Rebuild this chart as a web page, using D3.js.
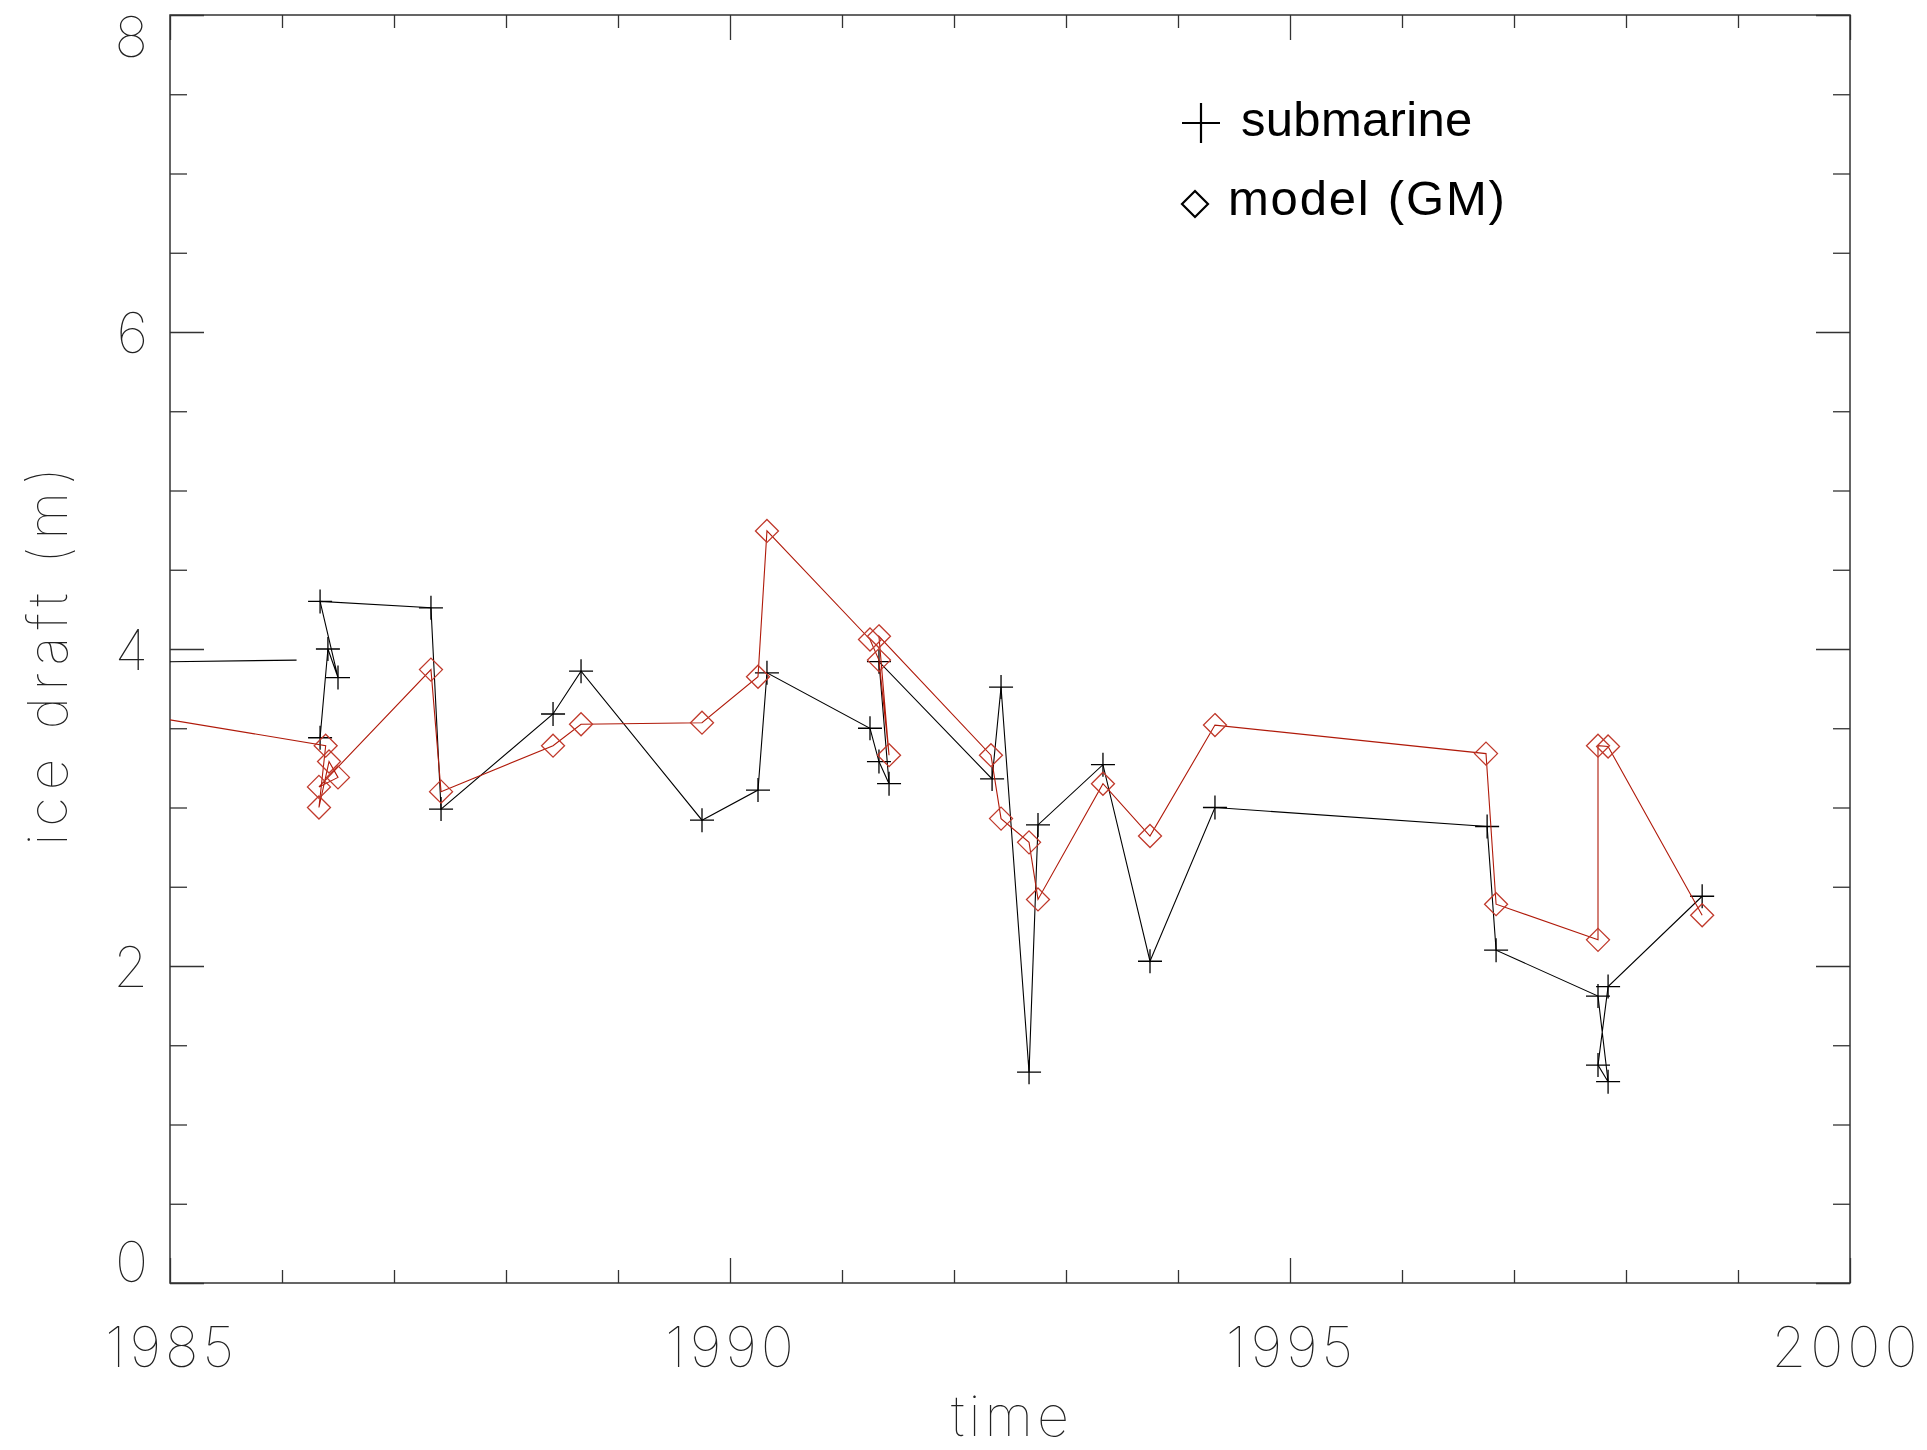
<!DOCTYPE html>
<html>
<head>
<meta charset="utf-8">
<script src="https://cdn.jsdelivr.net/npm/d3@7/dist/d3.min.js"></script>
<style>
body { margin: 0; background: #fff; }
svg { display: block; }
.tl { font-family: Inter, "Liberation Sans", sans-serif; font-weight: 100; fill: #222; }
.lg { font-family: "Liberation Sans", Arial, sans-serif; fill: #000; }
</style>
</head>
<body>
<svg id="chart" width="1927" height="1450"></svg>
<script>
var xTicks = [1985, 1990, 1995, 2000];
var xMinor = [1986, 1987, 1988, 1989, 1991, 1992, 1993, 1994, 1996, 1997, 1998, 1999];
var yTicks = [0, 2, 4, 6, 8];
var yMinor = [0.5, 1, 1.5, 2.5, 3, 3.5, 4.5, 5, 5.5, 6.5, 7, 7.5];

// submarine piece that starts before 1985 and is not joined to the rest
var subLead = [[1984.0, 3.91], [1986.13, 3.93]];

var submarine = [
    [1986.34, 3.44], [1986.41, 4.00], [1986.50, 3.82], [1986.34, 4.30],
    [1987.33, 4.26], [1987.42, 2.99], [1988.42, 3.59], [1988.67, 3.86],
    [1989.75, 2.92], [1990.25, 3.11], [1990.33, 3.85], [1991.25, 3.50],
    [1991.33, 3.29], [1991.42, 3.15], [1991.33, 3.92], [1992.34, 3.18],
    [1992.42, 3.76], [1992.67, 1.33], [1992.75, 2.89], [1993.33, 3.27],
    [1993.75, 2.03], [1994.33, 3.00], [1996.76, 2.88], [1996.84, 2.10],
    [1997.75, 1.81], [1997.84, 1.27], [1997.75, 1.375], [1997.84, 1.87],
    [1998.68, 2.44]
];

var model = [
    [1984.0, 3.67], [1986.39, 3.39], [1986.33, 3.00], [1986.42, 3.29],
    [1986.50, 3.19], [1986.33, 3.13], [1987.33, 3.87], [1987.42, 3.10],
    [1988.42, 3.39], [1988.67, 3.525], [1989.75, 3.535], [1990.25, 3.825],
    [1990.33, 4.745], [1991.25, 4.06], [1991.33, 3.93], [1991.42, 3.33],
    [1991.33, 4.08], [1992.33, 3.33], [1992.42, 2.93], [1992.67, 2.78],
    [1992.75, 2.42], [1993.33, 3.15], [1993.75, 2.82], [1994.33, 3.52],
    [1996.75, 3.34], [1996.84, 2.39], [1997.75, 2.165], [1997.75, 3.39],
    [1997.84, 3.385], [1998.68, 2.32]
];

var legendItems = ["submarine", "model (GM)"];

var svg = d3.select('#chart');
var pLeft = 170, pRight = 1850, pTop = 15, pBottom = 1283;

var x = d3.scaleLinear().domain([1985, 2000]).range([pLeft, pRight]);
var y = d3.scaleLinear().domain([0, 8]).range([pBottom, pTop]);

svg.append('defs').append('clipPath').attr('id', 'plotclip')
    .append('rect')
        .attr('x', pLeft).attr('y', pTop)
        .attr('width', pRight - pLeft).attr('height', pBottom - pTop);

// axes, ticks pointing inward
function addAxis(axis, tx, ty){
    var g = svg.append('g').attr('transform', 'translate(' + tx + ',' + ty + ')').call(axis);
    g.select('.domain').remove();
    g.selectAll('line').attr('stroke', '#333').attr('stroke-width', 1.3);
    return g;
}

var xb = addAxis(d3.axisBottom(x).tickValues(xTicks).tickSize(-25).tickFormat(d3.format('d')), 0, pBottom);
addAxis(d3.axisBottom(x).tickValues(xMinor).tickSize(-13).tickFormat(''), 0, pBottom);
addAxis(d3.axisTop(x).tickValues(xTicks).tickSize(-25).tickFormat(''), 0, pTop);
addAxis(d3.axisTop(x).tickValues(xMinor).tickSize(-13).tickFormat(''), 0, pTop);

var yl = addAxis(d3.axisLeft(y).tickValues(yTicks).tickSize(-34).tickFormat(d3.format('d')), pLeft, 0);
addAxis(d3.axisLeft(y).tickValues(yMinor).tickSize(-17).tickFormat(''), pLeft, 0);
addAxis(d3.axisRight(y).tickValues(yTicks).tickSize(-34).tickFormat(''), pRight, 0);
addAxis(d3.axisRight(y).tickValues(yMinor).tickSize(-17).tickFormat(''), pRight, 0);

xb.selectAll('text')
    .attr('class', 'tl')
    .attr('x', function(d){ return d == 2000 ? -4 : 1; })
    .attr('y', 84).attr('dy', 0)
    .style('font-size', '56px')
    .style('letter-spacing', '4px')
    .attr('fill', null);

yl.selectAll('text')
    .attr('class', 'tl')
    .attr('x', -22)
    .attr('dy', function(d){
        if (d == 8) return '0.74em';
        if (d == 0) return '-0.02em';
        return '0.36em';
    })
    .style('font-size', '56px')
    .attr('fill', null);

svg.append('rect')
    .attr('x', pLeft).attr('y', pTop)
    .attr('width', pRight - pLeft).attr('height', pBottom - pTop)
    .attr('fill', 'none')
    .attr('stroke', '#333')
    .attr('stroke-width', 1.5);

// axis titles
svg.append('text').attr('class', 'tl')
    .attr('x', (pLeft + pRight) / 2 + 2).attr('y', 1436)
    .attr('text-anchor', 'middle')
    .style('font-size', '56px')
    .style('letter-spacing', '4px')
    .text('time');

svg.append('text').attr('class', 'tl')
    .attr('transform', 'translate(67,' + ((pTop + pBottom) / 2 + 4) + ') rotate(-90)')
    .attr('text-anchor', 'middle')
    .style('font-size', '55px')
    .style('letter-spacing', '7px')
    .text('ice draft (m)');

var line = d3.line()
    .x(function(d){ return x(d[0]); })
    .y(function(d){ return y(d[1]); });

var plot = svg.append('g').attr('clip-path', 'url(#plotclip)');

var plusPath = 'M-12,0H12M0,-12V12';
var diamondPath = 'M0,-11.5L11.5,0L0,11.5L-11.5,0Z';

plot.append('path').datum(subLead)
    .attr('d', line).attr('fill', 'none')
    .attr('stroke', '#000').attr('stroke-width', 1.1);

plot.append('path').datum(submarine)
    .attr('d', line).attr('fill', 'none')
    .attr('stroke', '#000').attr('stroke-width', 1.1);

plot.selectAll('.plus').data(submarine)
    .enter()
    .append('path')
        .attr('class', 'plus')
        .attr('transform', function(d){ return 'translate(' + x(d[0]) + ',' + y(d[1]) + ')'; })
        .attr('d', plusPath)
        .attr('stroke', '#000')
        .attr('stroke-width', 1.3);

plot.append('path').datum(model)
    .attr('d', line).attr('fill', 'none')
    .attr('stroke', '#b01a0a').attr('stroke-width', 1.1);

plot.selectAll('.diam').data(model)
    .enter()
    .append('path')
        .attr('class', 'diam')
        .attr('transform', function(d){ return 'translate(' + x(d[0]) + ',' + y(d[1]) + ')'; })
        .attr('d', diamondPath)
        .attr('fill', 'none')
        .attr('stroke', '#c0392b')
        .attr('stroke-width', 1.3);

// legend
var lg = svg.append('g');
lg.append('path')
    .attr('transform', 'translate(1201,123)')
    .attr('d', 'M-19,0H19M0,-20V20')
    .attr('stroke', '#000').attr('stroke-width', 2.2);
lg.append('path')
    .attr('transform', 'translate(1195,204)')
    .attr('d', 'M0,-13L13,0L0,13L-13,0Z')
    .attr('fill', 'none')
    .attr('stroke', '#000').attr('stroke-width', 2.2);
lg.append('text').attr('class', 'lg')
    .attr('x', 1241).attr('y', 136)
    .style('font-size', '49px')
    .style('letter-spacing', '0.3px')
    .text(legendItems[0]);
lg.append('text').attr('class', 'lg')
    .attr('x', 1228).attr('y', 215)
    .style('font-size', '49px')
    .style('letter-spacing', '1.8px')
    .style('word-spacing', '2px')
    .text(legendItems[1]);
</script>
</body>
</html>
